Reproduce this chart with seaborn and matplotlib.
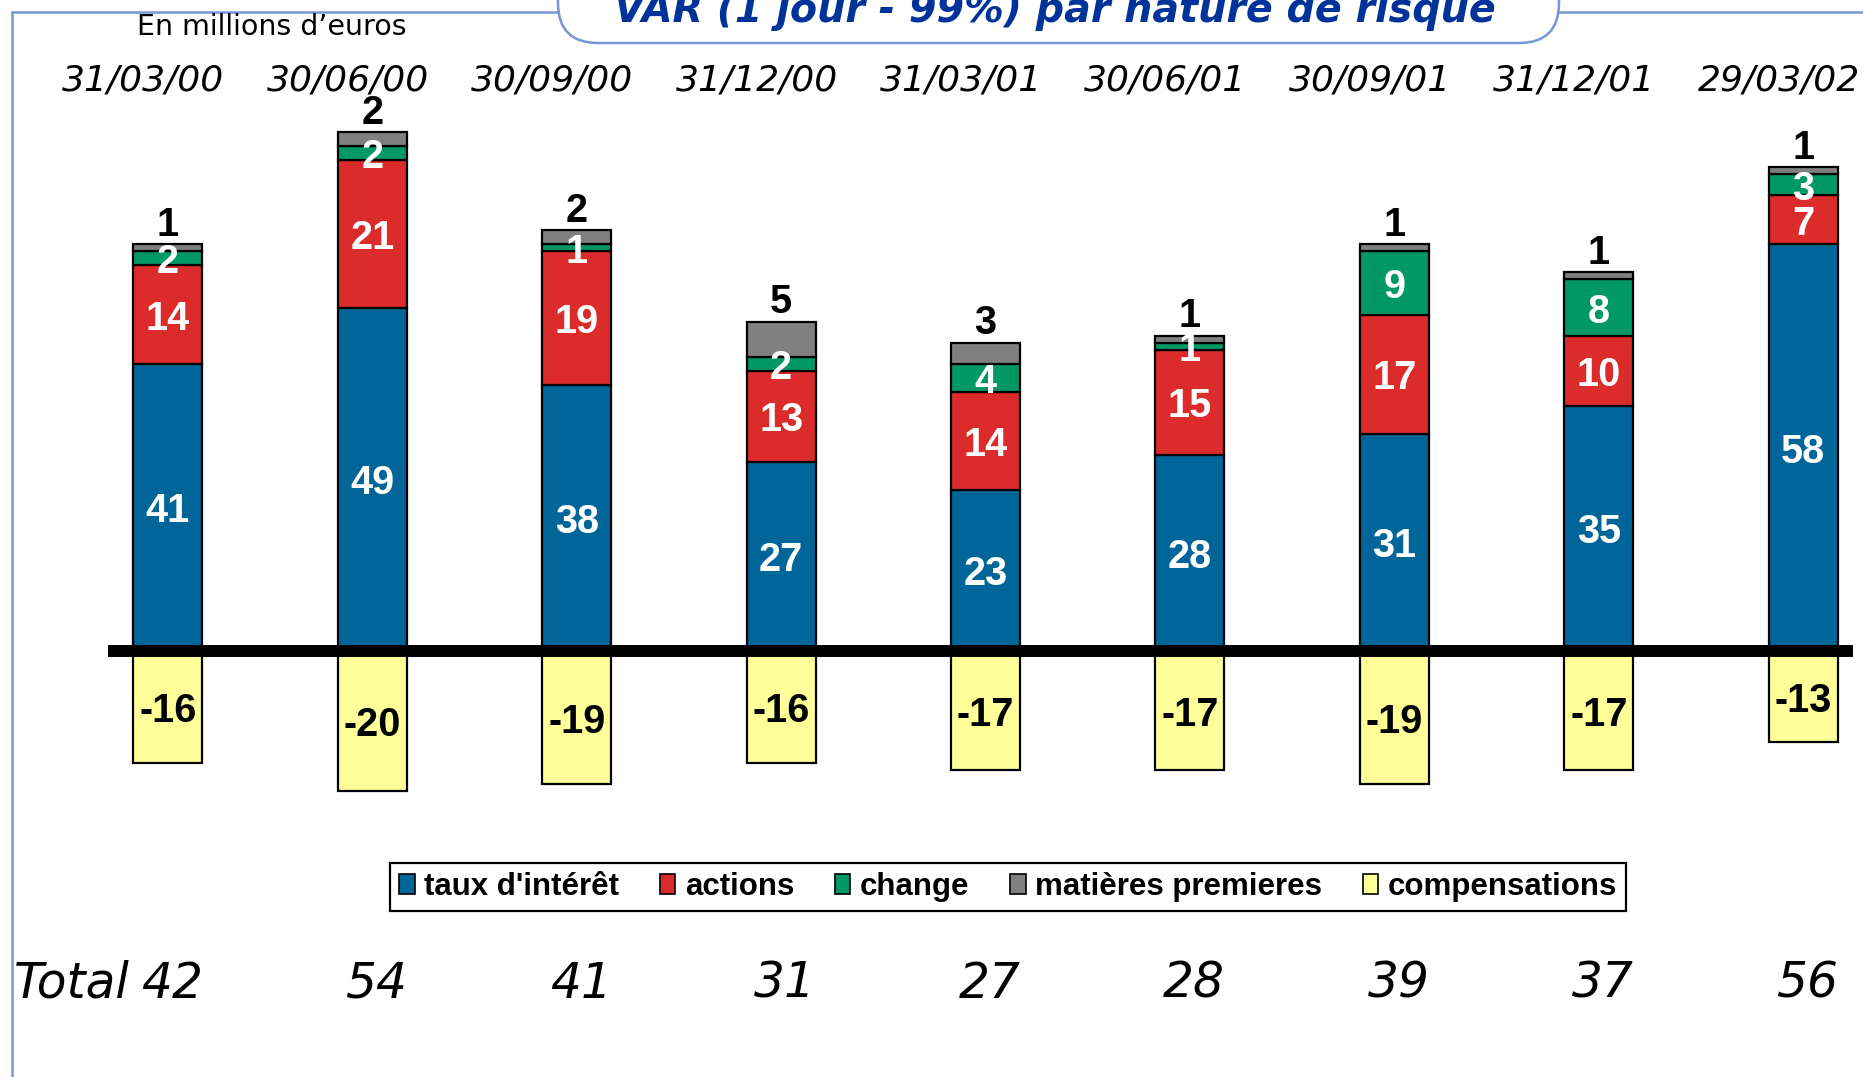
import numpy as np
import pandas as pd
import matplotlib
matplotlib.use("Agg")
import matplotlib.pyplot as plt
import seaborn as sns
from matplotlib.patches import Patch, FancyBboxPatch
from matplotlib.lines import Line2D
from matplotlib.transforms import blended_transform_factory

# ---------------- data ----------------
dates = ["31/03/00", "30/06/00", "30/09/00", "31/12/00", "31/03/01",
         "30/06/01", "30/09/01", "31/12/01", "29/03/02"]
taux = [41, 49, 38, 27, 23, 28, 31, 35, 58]
actions = [14, 21, 19, 13, 14, 15, 17, 10, 7]
change = [2, 2, 1, 2, 4, 1, 9, 8, 3]
matieres = [1, 2, 2, 5, 3, 1, 1, 1, 1]
compensations = [-16, -20, -19, -16, -17, -17, -19, -17, -13]
totals = [42, 54, 41, 31, 27, 28, 39, 37, 56]
series_names = ["taux d'intérêt", "actions", "change", "matières premieres", "compensations"]
title = "VAR (1 jour - 99%) par nature de risque"
unit_label = "En millions d\u2019euros"
total_label = "Total"

# ---------------- style ----------------
sns.set_theme(style="white")
plt.rcParams['font.family'] = ['DejaVu Sans']
plt.rcParams['text.color'] = 'black'
BOLD = ['Liberation Sans', 'DejaVu Sans']

C_BLUE = "#006699"
C_RED = "#DC2B2B"
C_GREEN = "#009966"
C_GRAY = "#808080"
C_YELLOW = "#FFFF99"
C_FRAME = "#7896D7"
C_TITLE = "#003399"

W, H = 1863, 1077
fig = plt.figure(figsize=(W / 100, H / 100), dpi=100)
fig.patch.set_facecolor("white")
ax = fig.add_axes([108 / W, 1 - 860 / H, 1745 / W, 770 / H])

df = pd.DataFrame({
    "date": dates,
    "taux": taux,
    "actions": actions,
    "change": change,
    "matieres": matieres,
    "compensations": compensations,
})

layers = [("taux", C_BLUE), ("actions", C_RED), ("change", C_GREEN), ("matieres", C_GRAY)]
bw = 0.3376
bottoms = np.zeros(len(dates))
for col, colr in layers:
    sns.barplot(data=df, x="date", y=col, order=dates, color=colr, saturation=1,
                width=bw, edgecolor="black", linewidth=1.6, bottom=bottoms.copy(),
                errorbar=None, ax=ax, zorder=2)
    bottoms = bottoms + df[col].to_numpy()

sns.barplot(data=df, x="date", y="compensations", order=dates, color=C_YELLOW,
            saturation=1, width=bw, edgecolor="black", linewidth=1.6,
            errorbar=None, ax=ax, zorder=2)

ax.set_xlim(-0.2935, 8.244)
ax.set_ylim(-29.81, 80.03)
ax.set_axis_off()
ax.axhline(0, color="black", lw=8.6, zorder=5, solid_capstyle="butt")

# ---------------- value labels ----------------
lab_kw = dict(ha="center", va="center_baseline", fontsize=28.5, fontweight="bold",
              family=BOLD, zorder=6)
for i in range(len(dates)):
    b = taux[i]
    ax.text(i, b / 2, str(taux[i]), color="white", **lab_kw)
    ax.text(i, b + actions[i] / 2, str(actions[i]), color="white", **lab_kw)
    b2 = b + actions[i]
    ax.text(i, b2 + change[i] / 2, str(change[i]), color="white", **lab_kw)
    top = b2 + change[i] + matieres[i]
    ax.annotate(str(matieres[i]), (i, top), xytext=(0, 6), textcoords="offset points",
                ha="center", va="baseline", fontsize=28.5, fontweight="bold",
                family=BOLD, color="black", zorder=6)
    ax.text(i, compensations[i] / 2, str(compensations[i]), color="black", **lab_kw)

# ---------------- dates and totals ----------------
tr = blended_transform_factory(ax.transData, fig.transFigure)
for i, d in enumerate(dates):
    ax.text(i - 0.12, 1 - 91 / H, d, transform=tr, ha="center", va="baseline",
            fontsize=26, style="italic", color="black", clip_on=False)
    ax.text(i + 0.02, 1 - 998 / H, str(totals[i]), transform=tr, ha="center", va="baseline",
            fontsize=35, style="italic", color="black", clip_on=False)
fig.text(14 / W, 1 - 998 / H, total_label, ha="left", va="baseline",
         fontsize=35, style="italic", color="black")

fig.text(272 / W, 1 - 35 / H, unit_label, ha="center", va="baseline",
         fontsize=20.5, color="black")

# ---------------- frame and title box ----------------
fig.add_artist(Line2D([12 / W, 12 / W], [0, 1 - 12 / H], transform=fig.transFigure,
                      color=C_FRAME, lw=1.8))
fig.add_artist(Line2D([12 / W, 558 / W], [1 - 12 / H, 1 - 12 / H], transform=fig.transFigure,
                      color=C_FRAME, lw=1.8))
fig.add_artist(Line2D([1559 / W, 1], [1 - 12 / H, 1 - 12 / H], transform=fig.transFigure,
                      color=C_FRAME, lw=1.8))
box = FancyBboxPatch((558 / W, 1 - 43 / H), (1559 - 558) / W, 120 / H,
                     boxstyle="round,pad=0,rounding_size=%f" % (40 / W),
                     mutation_aspect=W / H, transform=fig.transFigure,
                     facecolor="white", edgecolor=C_FRAME, lw=1.8, clip_on=False)
fig.add_artist(box)
fig.text(1055 / W, 1 - 22 / H, title, ha="center", va="baseline", fontsize=28.5,
         fontweight="bold", style="italic", color=C_TITLE)

# ---------------- legend ----------------
leg_colors = [C_BLUE, C_RED, C_GREEN, C_GRAY, C_YELLOW]
handles = [Patch(facecolor=c, edgecolor="black", linewidth=1.2) for c in leg_colors]
leg = fig.legend(handles, series_names, loc="center", bbox_to_anchor=(1008 / W, 1 - 887 / H),
                 bbox_transform=fig.transFigure, ncol=5, frameon=True, fancybox=False,
                 edgecolor="black", framealpha=1,
                 prop=dict(family=BOLD, weight="bold", size=22.5),
                 handlelength=0.5, handleheight=0.6, handletextpad=0.3,
                 columnspacing=1.3, borderpad=0.3, borderaxespad=0)
leg.get_frame().set_linewidth(1.6)
for t in leg.get_texts():
    t.set_color("black")

fig.savefig("out.png", dpi=100, facecolor="white")
